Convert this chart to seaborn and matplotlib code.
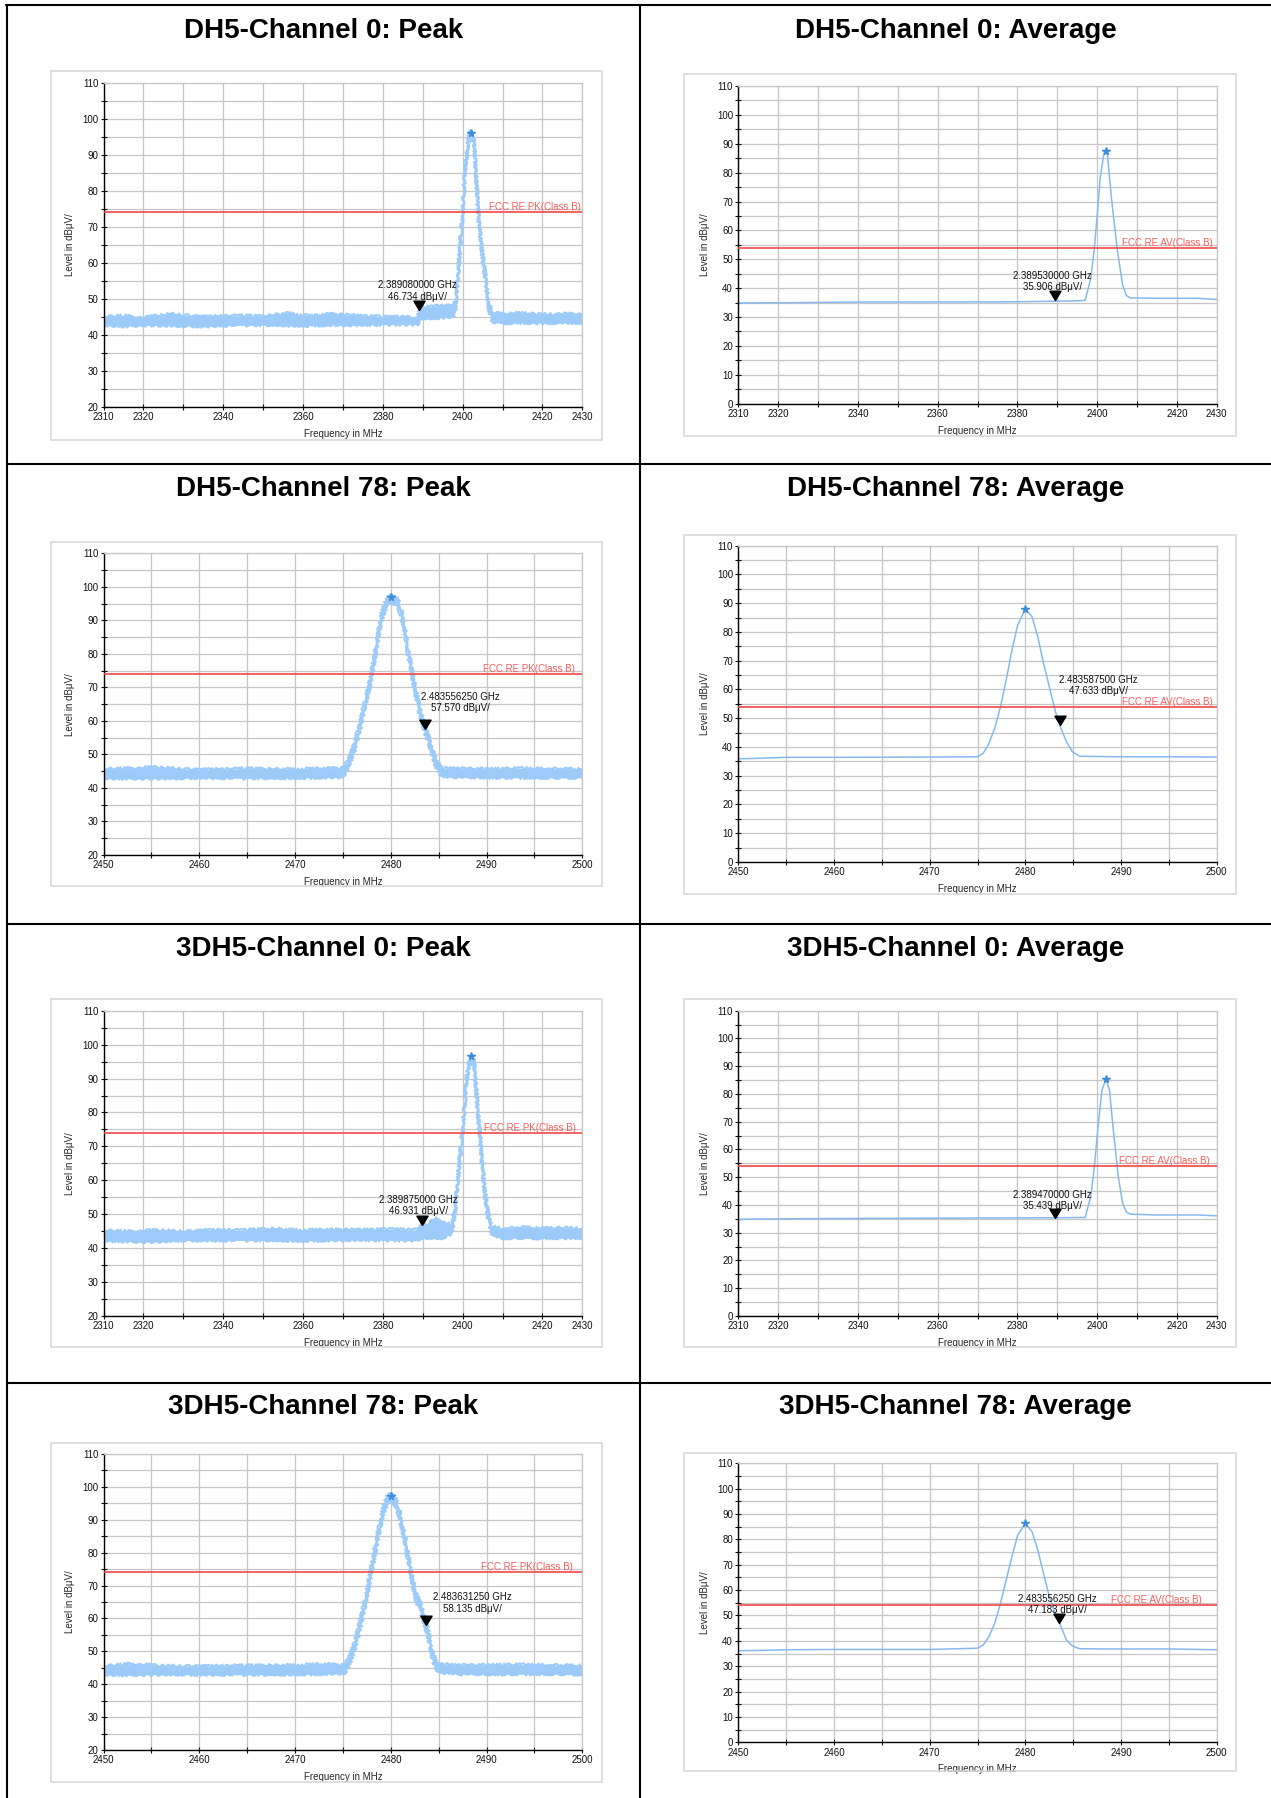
import matplotlib
matplotlib.use("Agg")
import matplotlib.pyplot as plt
import matplotlib.transforms as mtransforms
from matplotlib.lines import Line2D
from matplotlib.patches import Rectangle
import numpy as np
import pandas as pd
import seaborn as sns

# ==== DATA ====
TITLES = ["DH5-Channel 0: Peak", "DH5-Channel 0: Average",
          "DH5-Channel 78: Peak", "DH5-Channel 78: Average",
          "3DH5-Channel 0: Peak", "3DH5-Channel 0: Average",
          "3DH5-Channel 78: Peak", "3DH5-Channel 78: Average"]

CH0_XTICKS = [2310, 2320, 2330, 2340, 2350, 2360, 2370, 2380, 2390, 2400, 2410, 2420, 2430]
CH0_XLABELS = [2310, 2320, 2340, 2360, 2380, 2400, 2420, 2430]
CH78_XTICKS = [2450, 2460, 2470, 2480, 2490, 2500]
CH78_XMINOR = [2455, 2465, 2475, 2485, 2495]

PK_LIMIT = 74
AV_LIMIT = 54
PK_LIMIT_LABEL = "FCC RE PK(Class B)"
AV_LIMIT_LABEL = "FCC RE AV(Class B)"

# DH5 ch0 peak (noisy trace: upper / lower envelope)
P1_FREQ = [2310, 2315, 2320, 2327, 2335, 2342, 2350, 2356, 2362, 2367, 2373, 2380, 2388.8, 2389.2,
           2393, 2397.5, 2398.2, 2398.8, 2399.6, 2400.0, 2400.6, 2401.4, 2402.1, 2402.9, 2403.9,
           2404.7, 2405.7, 2406.6, 2407.5, 2410, 2415, 2420, 2425, 2430]
P1_HI = [45.0, 45.3, 44.8, 45.8, 45.0, 45.3, 45.2, 46.0, 45.2, 45.8, 45.3, 45.0, 44.8, 47.5,
         48.0, 48.2, 49.0, 57.0, 69.0, 75.0, 86.5, 95.0, 96.8, 95.0, 75.0,
         65.5, 57.0, 48.8, 46.2, 45.8, 46.0, 45.6, 45.8, 45.8]
P1_LO = [42.6, 42.4, 42.6, 42.5, 42.3, 42.6, 42.7, 42.6, 42.5, 42.7, 42.6, 42.8, 42.8, 44.5,
         44.6, 44.8, 46.5, 55.0, 67.0, 73.0, 85.0, 93.0, 95.5, 93.0, 73.0,
         63.5, 55.0, 46.8, 43.5, 43.2, 43.3, 43.2, 43.3, 43.3]

# DH5 ch0 average
P2_FREQ = [2310, 2313, 2325, 2340, 2360, 2380, 2395, 2397.0, 2398.4, 2399.3, 2400.0, 2400.75,
           2401.7, 2402.2, 2402.6, 2403.6, 2405.0, 2406.4, 2407.3, 2408.3, 2415, 2425, 2430]
P2_LEVEL = [34.8, 34.9, 35.0, 35.2, 35.2, 35.3, 35.6, 35.8, 43.4, 53.8, 65.0, 78.0,
            86.7, 87.6, 86.0, 71.0, 53.8, 41.0, 37.5, 36.6, 36.5, 36.5, 36.1]

# DH5 ch78 peak
P3_FREQ = [2450, 2455, 2460, 2465, 2470, 2475.0, 2475.6, 2476.2, 2476.8, 2477.3, 2477.9, 2478.5,
           2479.0, 2479.6, 2480.0, 2480.4, 2480.75, 2481.3, 2481.9, 2482.5, 2483.0, 2483.6,
           2484.2, 2484.7, 2485.3, 2490, 2495, 2500]
P3_HI = [45.6, 46.2, 45.5, 45.8, 45.6, 46.0, 48.5, 53.5, 59.5, 66.4, 73.4, 83.3,
         92.2, 96.7, 97.5, 97.2, 96.2, 91.2, 80.2, 71.4, 64.4, 58.5,
         53.5, 48.5, 45.9, 45.7, 45.9, 45.6]
P3_LO = [42.9, 42.8, 43.0, 42.9, 43.0, 43.2, 46.1, 51.1, 57.1, 64.0, 71.0, 80.9,
         89.8, 94.3, 95.3, 94.8, 93.8, 88.8, 77.8, 69.0, 62.0, 56.1,
         51.1, 46.1, 43.3, 43.1, 43.0, 43.1]

# DH5 ch78 average
P4_FREQ = [2450, 2451.5, 2455, 2460, 2470, 2475.0, 2475.6, 2476.2, 2476.8, 2477.4, 2478.0, 2478.6,
           2479.2, 2480.0, 2480.7, 2481.3, 2481.9, 2482.5, 2483.1, 2483.7, 2484.3, 2484.9,
           2485.65, 2487, 2490, 2495, 2500]
P4_LEVEL = [35.9, 36.0, 36.4, 36.4, 36.5, 36.6, 37.8, 41.3, 46.5, 54.0, 63.3, 73.7,
            82.4, 88.0, 85.3, 78.3, 69.1, 61.0, 52.8, 46.6, 41.8, 38.4,
            36.8, 36.7, 36.6, 36.6, 36.5]

# 3DH5 ch0 peak
P5_FREQ = [2310, 2316, 2322, 2330, 2338, 2345, 2352, 2360, 2368, 2375, 2382, 2388, 2389.8, 2391,
           2393, 2395, 2397.3, 2398.2, 2399.1, 2400.0, 2400.9, 2401.6, 2402.1, 2402.8, 2403.7,
           2404.6, 2405.5, 2406.4, 2407.3, 2410, 2415, 2420, 2425, 2430]
P5_HI = [45.2, 45.0, 45.3, 45.0, 45.4, 45.3, 45.8, 45.3, 45.5, 45.4, 45.6, 45.3, 47.5, 46.5,
         49.0, 47.5, 47.0, 53.3, 65.2, 76.0, 89.8, 96.2, 97.0, 96.2, 83.9,
         70.1, 58.3, 50.5, 46.5, 45.8, 46.2, 45.8, 46.0, 45.8]
P5_LO = [42.2, 42.0, 41.8, 42.3, 42.2, 42.3, 42.3, 42.2, 42.3, 42.4, 42.3, 42.2, 42.9, 43.0,
         43.0, 43.0, 44.2, 51.1, 62.8, 73.6, 87.4, 93.8, 95.5, 93.8, 81.5,
         67.7, 55.9, 48.1, 44.1, 42.9, 43.0, 42.9, 43.0, 43.0]

# 3DH5 ch0 average
P6_FREQ = [2310, 2313, 2330, 2350, 2370, 2390, 2396, 2397.0, 2398.4, 2399.3, 2400.3, 2401.2,
           2402.2, 2403.1, 2404.05, 2405.3, 2406.4, 2407.3, 2408.3, 2415, 2425, 2430]
P6_LEVEL = [34.8, 34.9, 35.1, 35.2, 35.3, 35.4, 35.5, 35.5, 43.0, 53.8, 69.4, 81.4,
            85.4, 81.4, 67.0, 50.2, 40.6, 37.5, 36.7, 36.4, 36.4, 36.1]

# 3DH5 ch78 peak
P7_FREQ = [2450, 2453, 2456, 2460, 2465, 2470, 2473, 2475.2, 2475.8, 2476.4, 2477.0, 2477.5,
           2478.1, 2478.7, 2479.2, 2479.6, 2480.0, 2480.4, 2480.9, 2481.5, 2482.1, 2482.65,
           2483.2, 2483.8, 2484.4, 2484.9, 2487, 2491, 2495, 2500]
P7_HI = [45.5, 46.3, 45.6, 45.5, 45.7, 45.8, 46.1, 45.9, 49.2, 54.7, 61.8, 68.9,
         78.0, 87.2, 94.2, 97.3, 98.0, 97.3, 93.2, 85.1, 75.0, 67.9,
         63.8, 57.9, 49.7, 46.1, 45.8, 45.9, 46.0, 45.6]
P7_LO = [42.9, 42.8, 43.0, 42.9, 42.9, 43.0, 43.1, 43.3, 46.6, 52.1, 59.2, 66.3,
         75.4, 84.6, 91.6, 94.7, 95.6, 94.7, 90.6, 82.5, 72.4, 65.3,
         61.2, 55.3, 47.1, 43.5, 43.1, 43.0, 43.1, 43.0]

# 3DH5 ch78 average
P8_FREQ = [2450, 2452, 2455, 2460, 2470, 2475.0, 2475.6, 2476.2, 2476.8, 2477.4, 2478.0, 2478.6,
           2479.2, 2480.0, 2480.7, 2481.3, 2481.9, 2482.5, 2483.1, 2483.7, 2484.3, 2484.9,
           2485.65, 2488, 2495, 2500]
P8_LEVEL = [36.1, 36.2, 36.5, 36.6, 36.6, 37.1, 38.4, 41.7, 46.9, 54.8, 64.0, 73.2,
            81.7, 86.3, 83.0, 75.8, 66.6, 57.4, 51.0, 45.8, 40.3, 38.0,
            36.9, 36.8, 36.8, 36.5]

# max peak (star) and marker (triangle) per panel
PEAK_FREQ = [2402.1, 2402.2, 2480.0, 2480.0, 2402.1, 2402.2, 2480.0, 2480.0]
PEAK_LEVEL = [96.0, 87.6, 97.0, 88.0, 96.6, 85.4, 97.2, 86.3]
MARK_FREQ = [2389.080, 2389.530, 2483.55625, 2483.5875, 2389.875, 2389.470, 2483.63125, 2483.55625]
MARK_LEVEL = [46.734, 35.906, 57.570, 47.633, 46.931, 35.439, 58.135, 47.183]

# ==== LAYOUT (pixels, origin top-left) ====
W, H = 1271, 1798
AX_BOX = [(103.6, 82.7, 582.3, 406.7), (738.2, 86.0, 1216.8, 403.7),
          (103.6, 553.3, 582.3, 855.0), (738.2, 545.7, 1216.8, 862.0),
          (103.6, 1010.7, 582.3, 1316.0), (738.2, 1010.7, 1216.8, 1316.0),
          (103.6, 1454.0, 582.3, 1750.0), (738.2, 1463.3, 1216.8, 1742.3)]
FRAME_BOX = [(50.9, 70.7, 601.6, 440.0), (684.4, 74.3, 1236.3, 435.7),
             (50.9, 542.3, 601.6, 886.0), (684.4, 534.7, 1236.3, 894.0),
             (50.9, 999.3, 601.6, 1347.3), (684.4, 999.3, 1236.3, 1347.3),
             (50.9, 1442.7, 601.6, 1781.7), (684.4, 1452.7, 1236.3, 1770.7)]
TITLE_BASE_Y = [37.5, 496.5, 955.5, 1414.5]
TITLE_X = [323.5, 955.5]
# marker text: (ha, dx px, dy px) relative to the triangle tip
MARK_TEXT_POS = [("center", -2, 19.5), ("center", -3, 18.5), ("left", -4, 26.5), ("left", -1, 39.5),
                 ("center", -4, 19.5), ("center", -3, 17.5), ("left", 7, 21.5), ("center", -2, 18.5)]
LIMIT_PAD = [1, 4, 7, 4, 6, 7, 9, 15]

TRACE = "#9ccbfa"
AVG_TRACE = "#86b9ee"
GRID = "#c6c6c6"
RED = "#f04848"
RED_TXT = "#ff5c5c"

TRI = [(0, 0), (-0.6, 1.0), (0.6, 1.0), (0, 0)]

sns.set_theme(style="white")
plt.rcParams["font.family"] = ["Liberation Sans", "DejaVu Sans"]


def fig_rect(box):
    x0, y0, x1, y1 = box
    return [x0 / W, 1 - y1 / H, (x1 - x0) / W, (y1 - y0) / H]


def setup_axes(ax, ch78, ymin):
    if ch78:
        ax.set_xlim(2450, 2500)
        ax.set_xticks(CH78_XTICKS)
        ax.set_xticklabels([str(t) for t in CH78_XTICKS])
        ax.set_xticks(CH78_XMINOR, minor=True)
    else:
        ax.set_xlim(2310, 2430)
        ax.set_xticks(CH0_XTICKS)
        ax.set_xticklabels([str(t) if t in CH0_XLABELS else "" for t in CH0_XTICKS])
    ax.set_ylim(ymin, 110)
    ax.set_yticks(np.arange(ymin, 111, 10))
    ax.set_yticks(np.arange(ymin + 5, 110, 10), minor=True)
    ax.grid(True, which="both", color=GRID, lw=0.9)
    ax.set_axisbelow(True)
    ax.tick_params(which="both", direction="inout", length=4.5, width=0.8,
                   colors="#111111", labelsize=7, pad=1.5)
    ax.tick_params(which="both", bottom=True, left=True)
    for side in ["top", "right"]:
        ax.spines[side].set_color(GRID)
        ax.spines[side].set_linewidth(0.9)
    for side in ["left", "bottom"]:
        ax.spines[side].set_color("black")
        ax.spines[side].set_linewidth(1.0)
    ax.set_xlabel("Frequency in MHz", fontsize=7, labelpad=5)
    ax.set_ylabel("Level in dBμV/", fontsize=7, labelpad=5)


fig = plt.figure(figsize=(W / 100, H / 100), dpi=100)

panels = [
    dict(freq=P1_FREQ, hi=P1_HI, lo=P1_LO),
    dict(freq=P2_FREQ, level=P2_LEVEL),
    dict(freq=P3_FREQ, hi=P3_HI, lo=P3_LO),
    dict(freq=P4_FREQ, level=P4_LEVEL),
    dict(freq=P5_FREQ, hi=P5_HI, lo=P5_LO),
    dict(freq=P6_FREQ, level=P6_LEVEL),
    dict(freq=P7_FREQ, hi=P7_HI, lo=P7_LO),
    dict(freq=P8_FREQ, level=P8_LEVEL),
]

for i, p in enumerate(panels):
    row, col = divmod(i, 2)
    is_peak = col == 0
    ch78 = row % 2 == 1
    ymin = 20 if is_peak else 0

    # gray chart frame
    fx0, fy0, fx1, fy1 = FRAME_BOX[i]
    fig.add_artist(Rectangle((fx0 / W, 1 - fy1 / H), (fx1 - fx0) / W, (fy1 - fy0) / H,
                             transform=fig.transFigure, fill=False, ec="#d6d6d6", lw=1.1))

    ax = fig.add_axes(fig_rect(AX_BOX[i]))
    df = pd.DataFrame(p)
    if is_peak:
        ax.fill_between(df["freq"], df["lo"], df["hi"], color=TRACE, lw=0, zorder=2)
        for col_name in ["hi", "lo"]:
            sns.lineplot(data=df, x="freq", y=col_name, ax=ax, color=TRACE, lw=1.4,
                         estimator=None, zorder=2)
            # rough, spectrum-analyser-like edge on the noisy trace
            ax.lines[-1].set_sketch_params(1.4, 1.2, 6)
    else:
        sns.lineplot(data=df, x="freq", y="level", ax=ax, color=AVG_TRACE, lw=1.1, estimator=None, zorder=2)
    setup_axes(ax, ch78, ymin)

    # limit line + label
    limit = PK_LIMIT if is_peak else AV_LIMIT
    ax.axhline(limit, color=RED, lw=1.2, zorder=3)
    ax_w = AX_BOX[i][2] - AX_BOX[i][0]
    trans = mtransforms.blended_transform_factory(ax.transAxes, ax.transData)
    ax.text(1 - LIMIT_PAD[i] / ax_w, limit, PK_LIMIT_LABEL if is_peak else AV_LIMIT_LABEL,
            transform=trans, ha="right", va="bottom", color=RED_TXT, fontsize=7, zorder=4)

    # max peak star
    ax.plot(PEAK_FREQ[i], PEAK_LEVEL[i], marker="*", ms=5.5, color="#3d8ddb", ls="none", zorder=4)

    # marker triangle + readout
    ax.plot(MARK_FREQ[i], MARK_LEVEL[i], marker=TRI, ms=13.4, color="black", ls="none", zorder=5)
    ha, dx, dy = MARK_TEXT_POS[i]
    label = f"{MARK_FREQ[i] / 1000:.9f} GHz\n{MARK_LEVEL[i]:.3f} dBμV/"
    ax.annotate(label, xy=(MARK_FREQ[i], MARK_LEVEL[i]), xytext=(dx, dy), textcoords="offset pixels",
                ha=ha, va="center", multialignment="center", fontsize=7, color="#111111",
                linespacing=1.15, zorder=6)

    # cell title
    fig.text(TITLE_X[col] / W, 1 - TITLE_BASE_Y[row] / H, TITLES[i], ha="center", va="baseline",
             fontsize=20, fontweight="bold", color="black")

# table borders
def hline(y, x0=7, x1=W):
    fig.add_artist(Line2D([x0 / W, x1 / W], [1 - y / H, 1 - y / H], transform=fig.transFigure,
                          color="black", lw=1.5))


def vline(x, y0=5, y1=H):
    fig.add_artist(Line2D([x / W, x / W], [1 - y0 / H, 1 - y1 / H], transform=fig.transFigure,
                          color="black", lw=1.5))


hline(5, x0=6)
for y in [464, 923.5, 1382.5]:
    hline(y)
vline(7)
vline(640)

fig.savefig("out.png", dpi=100)
